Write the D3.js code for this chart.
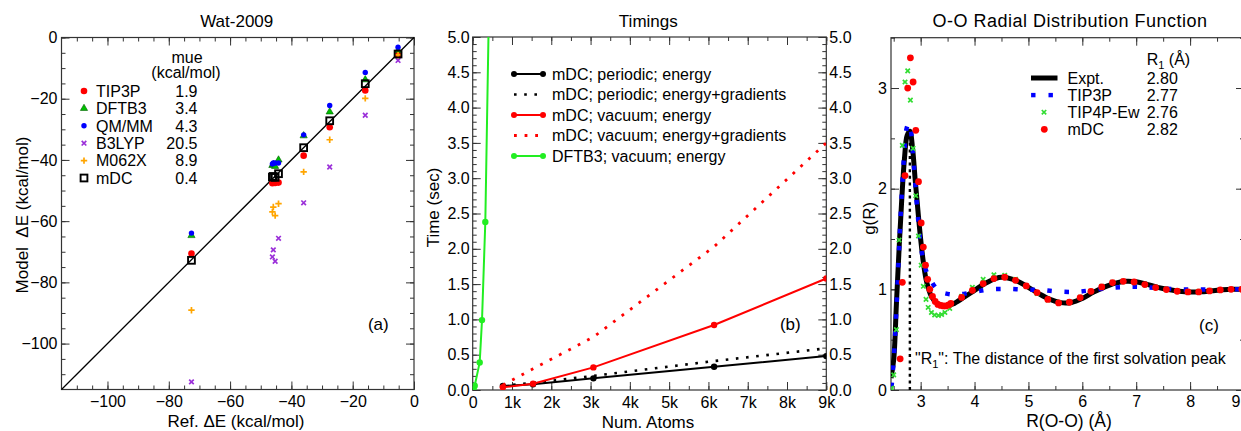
<!doctype html>
<html>
<head>
<meta charset="utf-8">
<style>
  body { margin: 0; background: #fff; }
  svg text { font-family: 'Liberation Sans', Arial, sans-serif; fill: #000; }
</style>
</head>
<body>
<svg id="fig"></svg>
<script src="https://d3js.org/d3.v7.min.js"></script>
<script>
// ---------- (a) Wat-2009 interaction energies, kcal/mol ----------
const refE   = [-72.6, -46.2, -45.9, -45.3, -44.2, -36.0, -27.5, -15.9, -5.2];
const tip3pE = [-70.6, -47.6, -47.3, -47.5, -47.4, -38.6, -29.3, -17.3, -5.7];
const dftb3E = [-64.7, -41.8, -41.5, -42.1, -40.0, -32.1, -24.3, -13.8, -4.2];
const qmmmE  = [-63.9, -41.3, -41.0, -41.0, -41.0, -31.8, -22.2, -11.4, -3.2];
const b3lypE = [-112.5, -71.7, -69.4, -73.1, -65.6, -54.0, -42.3, -25.4, -7.5];
const m062xE = [-89.1, -57.0, -55.4, -58.2, -54.3, -43.9, -33.4, -19.9, -5.7];
const mdcE   = [-72.8, -45.6, -45.4, -45.7, -44.5, -36.0, -27.2, -15.1, -5.4];
const methodNames = ['TIP3P', 'DFTB3', 'QM/MM', 'B3LYP', 'M062X', 'mDC'];
const mueValues   = ['1.9', '3.4', '4.3', '20.5', '8.9', '0.4'];
const eTicks      = [-100, -80, -60, -40, -20, 0];
const eTickLabels = ['\u2212100', '\u221280', '\u221260', '\u221240', '\u221220', '0'];

// ---------- (b) timings ----------
const atomsMDC   = [768, 1536, 3072, 6144, 9000];
const tPerEnergy = [0.057, 0.08, 0.165, 0.33, 0.48];
const tPerGrad   = [0.06, 0.1, 0.2, 0.41, 0.59];
const tVacEnergy = [0.038, 0.09, 0.32, 0.92, 1.58];
const tVacGrad   = [0.07, 0.3, 0.75, 2.03, 3.5];
const atomsDFTB  = [24, 51, 178, 237, 321, 480];
const tDftbEnergy = [0.01, 0.06, 0.39, 0.99, 2.38, 7.6];
const timingNames = ['mDC; periodic; energy', 'mDC; periodic; energy+gradients',
  'mDC; vacuum; energy', 'mDC; vacuum; energy+gradients', 'DFTB3; vacuum; energy'];
const atomTicks  = [0, 1000, 2000, 3000, 4000, 5000, 6000, 7000, 8000, 9000];
const atomLabels = ['0', '1k', '2k', '3k', '4k', '5k', '6k', '7k', '8k', '9k'];
const timeTicks  = [0, 0.5, 1, 1.5, 2, 2.5, 3, 3.5, 4, 4.5, 5];
const timeLabels = ['0.0', '0.5', '1.0', '1.5', '2.0', '2.5', '3.0', '3.5', '4.0', '4.5', '5.0'];

// ---------- (c) O-O radial distribution function ----------
const exptR = [2.45, 2.5, 2.55, 2.6, 2.65, 2.7, 2.75, 2.8, 2.85, 2.9, 2.95, 3.0, 3.05, 3.1, 3.15, 3.2,
  3.3, 3.4, 3.5, 3.6, 3.8, 4.0, 4.2, 4.4, 4.5, 4.6, 4.8, 5.0, 5.2, 5.4, 5.6, 5.8, 6.0, 6.2, 6.4, 6.6,
  6.8, 7.0, 7.2, 7.4, 7.6, 7.8, 8.0, 8.2, 8.4, 8.6, 8.8, 9.0];
const exptG = [0.12, 0.3, 0.85, 1.4, 1.9, 2.3, 2.53, 2.57, 2.4, 2.08, 1.78, 1.5, 1.27, 1.1, 1.0, 0.93,
  0.865, 0.84, 0.84, 0.855, 0.92, 0.99, 1.06, 1.11, 1.12, 1.115, 1.08, 1.02, 0.955, 0.9, 0.868, 0.87,
  0.91, 0.97, 1.02, 1.06, 1.08, 1.075, 1.05, 1.02, 0.998, 0.982, 0.974, 0.975, 0.985, 0.995, 1.0, 1.0];
const tip3pR = [2.46, 2.5, 2.55, 2.6, 2.65, 2.7, 2.74, 2.78, 2.82, 2.86, 2.9, 2.95, 3.0, 3.06, 3.12,
  3.18, 3.26, 3.35, 3.5, 3.65, 3.8, 3.95, 4.1, 4.3, 4.6, 4.9, 5.2, 5.5, 5.85, 6.15, 6.5, 6.8, 7.1, 7.4,
  7.75, 8.05, 8.4, 8.7, 9.0];
const tip3pG = [0.03, 0.3, 0.8, 1.4, 1.95, 2.38, 2.6, 2.65, 2.57, 2.33, 2.05, 1.72, 1.45, 1.26, 1.16,
  1.1, 1.03, 0.98, 0.955, 0.948, 0.955, 0.97, 0.985, 1.0, 1.004, 0.998, 0.995, 0.98, 0.974, 0.99, 1.014,
  1.024, 1.024, 1.012, 1.0, 0.998, 1.0, 1.0, 1.0];
const tip4pR = [2.46, 2.5, 2.55, 2.6, 2.66, 2.71, 2.76, 2.81, 2.86, 2.91, 2.96, 3.01, 3.05, 3.1, 3.14,
  3.2, 3.26, 3.33, 3.39, 3.45, 3.54, 3.76, 3.96, 4.16, 4.36, 4.56, 4.76, 4.96, 5.16, 5.36, 5.56, 5.76,
  5.96, 6.16, 6.36, 6.56, 6.76, 6.96, 7.16, 7.36, 7.56, 7.76, 7.96, 8.16, 8.36, 8.56, 8.76, 8.96];
const tip4pG = [0.02, 0.15, 0.6, 1.49, 2.43, 3.06, 3.17, 2.88, 2.4, 1.93, 1.53, 1.24, 1.03, 0.9, 0.82,
  0.77, 0.745, 0.74, 0.75, 0.77, 0.81, 0.93, 1.02, 1.1, 1.145, 1.14, 1.1, 1.03, 0.96, 0.895, 0.87, 0.875,
  0.92, 0.98, 1.03, 1.07, 1.08, 1.07, 1.045, 1.02, 1.0, 0.985, 0.978, 0.98, 0.99, 0.995, 1.0, 1.0];
const mdcR = [2.62, 2.66, 2.71, 2.76, 2.81, 2.86, 2.91, 2.96, 3.01, 3.05, 3.09, 3.13, 3.17, 3.22, 3.27,
  3.32, 3.37, 3.42, 3.47, 3.52, 3.56, 3.76, 3.96, 4.16, 4.36, 4.56, 4.76, 4.96, 5.16, 5.36, 5.56, 5.76,
  5.96, 6.16, 6.36, 6.56, 6.76, 6.96, 7.16, 7.36, 7.56, 7.76, 7.96, 8.16, 8.36, 8.56, 8.76, 8.96];
const mdcG = [0.31, 1.07, 2.13, 3.0, 3.3, 3.06, 2.58, 2.07, 1.66, 1.42, 1.24, 1.1, 1.0, 0.93, 0.88,
  0.85, 0.84, 0.835, 0.835, 0.845, 0.86, 0.92, 0.99, 1.057, 1.107, 1.12, 1.09, 1.034, 0.968, 0.9, 0.865,
  0.872, 0.918, 0.98, 1.024, 1.067, 1.08, 1.073, 1.047, 1.018, 0.998, 0.981, 0.974, 0.974, 0.984, 0.994,
  1.0, 1.0];
const rdfNames = ['Expt.', 'TIP3P', 'TIP4P-Ew', 'mDC'];
const rdfPeaks = ['2.80', '2.77', '2.76', '2.82'];
const rTicks = [3, 4, 5, 6, 7, 8, 9];
const rLabels = ['3', '4', '5', '6', '7', '8', '9'];
const gTicks = [0, 1, 2, 3];
const gLabels = ['0', '1', '2', '3'];

const W = 1241, H = 431;
const svg = d3.select('#fig').attr('width', W).attr('height', H);
const zip = (a, b) => a.map((v, i) => [v, b[i]]);
const step = (a, b, s) => d3.range(Math.round((b - a) / s) + 1).map(i => +(a + i * s).toFixed(3));

// box with inward ticks on all four sides
function frame(x, y, o) {
  const [x0, x1] = x.range(), [y0, y1] = y.range();
  const g = svg.append('g');
  const ax = (fn, scale, vals, size, fmt, tr, pad) => g.append('g')
      .attr('transform', tr)
      .call(fn(scale).tickValues(vals).tickSizeInner(-size).tickSizeOuter(0).tickPadding(pad).tickFormat(fmt))
      .call(s => s.select('.domain').remove())
      .attr('font-size', 16).attr('font-family', null);
  const blank = () => '';
  ax(d3.axisBottom, x, o.xMinor, 4, blank, `translate(0,${y0})`, 0);
  ax(d3.axisTop, x, o.xMinor, 4, blank, `translate(0,${y1})`, 0);
  ax(d3.axisLeft, y, o.yMinor, 4, blank, `translate(${x0},0)`, 0);
  ax(d3.axisRight, y, o.yMinor, 4, blank, `translate(${x1},0)`, 0);
  const bottom = ax(d3.axisBottom, x, o.xMajor, 8, (d, i) => o.xLabels[i], `translate(0,${y0})`, o.xPad);
  ax(d3.axisTop, x, o.xMajor, 8, blank, `translate(0,${y1})`, 0);
  ax(d3.axisLeft, y, o.yMajor, 8, (d, i) => o.yLabels[i], `translate(${x0},0)`, o.yPad);
  ax(d3.axisRight, y, o.yMajor, 8, o.rightLabels ? (d, i) => o.yLabels[i] : blank, `translate(${x1},0)`, 3);
  // keep a label that would run past the page edge inside it
  bottom.selectAll('.tick text').filter(d => x(d) > W - 6).attr('text-anchor', 'end').attr('x', W - 1 - x(o.xMajor[o.xMajor.length - 1]));
  g.selectAll('line').attr('stroke', '#333');
  g.append('rect').attr('x', x0).attr('y', y1).attr('width', x1 - x0).attr('height', y0 - y1)
    .attr('fill', 'none').attr('stroke', '#333').attr('stroke-width', 1.2);
  return g;
}
function label(x, y, txt, size, anchor, rotate) {
  const t = svg.append('text').attr('font-size', size).attr('text-anchor', anchor || 'start').text(txt);
  t.attr('transform', `translate(${x},${y})` + (rotate ? ' rotate(-90)' : ''));
  return t;
}
function clip(id, x, y) {
  const [x0, x1] = x.range(), [y0, y1] = y.range();
  svg.append('clipPath').attr('id', id).append('rect')
    .attr('x', x0).attr('y', y1).attr('width', x1 - x0).attr('height', y0 - y1);
  return svg.append('g').attr('clip-path', `url(#${id})`);
}

// marker painters
const markers = {
  circle: (g, r, c) => g.append('circle').attr('r', r).attr('fill', c),
  tri: (g, r, c) => g.append('path').attr('d', d3.symbol(d3.symbolTriangle, r * r * 2.2)())
    .attr('fill', c).attr('stroke', '#006000').attr('stroke-width', 0.6),
  xmark: (g, r, c) => g.append('path').attr('d', `M${-r},${-r}L${r},${r}M${-r},${r}L${r},${-r}`)
    .attr('stroke', c).attr('stroke-width', 1.7),
  plus: (g, r, c) => g.append('path').attr('d', `M${-r},0H${r}M0,${-r}V${r}`)
    .attr('stroke', c).attr('stroke-width', 1.7),
  square: (g, r, c) => g.append('rect').attr('x', -r).attr('y', -r).attr('width', 2 * r).attr('height', 2 * r)
    .attr('fill', 'none').attr('stroke', c).attr('stroke-width', 1.9)
};

// ================= panel (a) =================
const xa = d3.scaleLinear().domain([-115, 0]).range([61.5, 414]);
const ya = d3.scaleLinear().domain([-115, 0]).range([389.5, 37.5]);
frame(xa, ya, { xMajor: eTicks, xMinor: step(-110, 0, 5), xLabels: eTickLabels, xPad: 6.5,
  yMajor: eTicks, yMinor: step(-110, 0, 5), yLabels: eTickLabels, yPad: 4 });
svg.append('line').attr('x1', xa(-115)).attr('y1', ya(-115)).attr('x2', xa(0)).attr('y2', ya(0))
  .attr('stroke', '#000').attr('stroke-width', 1.3);

const aSeries = [
  { v: tip3pE, m: 'circle', r: 3.3, c: '#ff0000' },
  { v: dftb3E, m: 'tri', r: 3.2, c: '#00c000' },
  { v: qmmmE, m: 'circle', r: 2.7, c: '#0000ff' },
  { v: b3lypE, m: 'xmark', r: 2.3, c: '#9b30d9' },
  { v: m062xE, m: 'plus', r: 3.2, c: '#ffa500' },
  { v: mdcE, m: 'square', r: 3.4, c: '#000' }
];
aSeries.forEach(s => {
  zip(refE, s.v).forEach(([x, y]) => {
    markers[s.m](svg.append('g').attr('transform', `translate(${xa(x)},${ya(y)})`), s.r, s.c);
  });
});
label(187, 62.5, 'mue', 16, 'middle');
label(186, 77.7, '(kcal/mol)', 16, 'middle');
methodNames.forEach((n, i) => {
  const cy = 91 + i * 17.4, s = aSeries[i];
  markers[s.m](svg.append('g').attr('transform', `translate(84,${cy})`), s.r, s.c);
  label(96, cy + 5.7, n, 16);
  label(197.5, cy + 5.7, mueValues[i], 16, 'end');
});
label(236.7, 27.3, 'Wat-2009', 17, 'middle');
label(236, 426.5, 'Ref. \u0394E (kcal/mol)', 17, 'middle');
label(27.5, 215, 'Model  \u0394E (kcal/mol)', 17, 'middle', true).style('white-space', 'pre');
label(378.3, 329.5, '(a)', 17, 'middle');

// ================= panel (b) =================
const xb = d3.scaleLinear().domain([0, 9000]).range([472.7, 826.3]);
const yb = d3.scaleLinear().domain([0, 5]).range([390, 37]);
frame(xb, yb, { xMajor: atomTicks, xMinor: step(0, 9000, 500), xLabels: atomLabels, xPad: 6.5,
  yMajor: timeTicks, yMinor: step(0, 5, 0.1), yLabels: timeLabels, yPad: 3, rightLabels: true });
const gb = clip('clipb', xb, yb);
const lineB = d3.line().x(d => xb(d[0])).y(d => yb(d[1]));
const bSeries = [
  { d: zip(atomsMDC, tPerEnergy), c: '#000', dots: true },
  { d: zip(atomsMDC, tPerGrad), c: '#000', dots: false, dash: '2.6,7.6', w: 2.6 },
  { d: zip(atomsMDC, tVacEnergy), c: '#ff0000', dots: true },
  { d: zip(atomsMDC, tVacGrad), c: '#ff0000', dots: false, dash: '2.8,7.8', w: 2.8 },
  { d: zip(atomsDFTB, tDftbEnergy), c: '#22ee22', dots: true }
];
bSeries.forEach(s => {
  gb.append('path').attr('d', lineB(s.d)).attr('fill', 'none').attr('stroke', s.c)
    .attr('stroke-width', s.w || 2).attr('stroke-dasharray', s.dash || null);
  if (s.dots) gb.selectAll(null).data(s.d).join('circle')
    .attr('cx', d => xb(d[0])).attr('cy', d => yb(d[1])).attr('r', 3.2).attr('fill', s.c);
});
timingNames.forEach((n, i) => {
  const cy = 74 + i * 20.5, s = bSeries[i];
  svg.append('line').attr('x1', 514).attr('x2', s.dots ? 543 : 541).attr('y1', cy).attr('y2', cy)
    .attr('stroke', s.c).attr('stroke-width', s.w || 2).attr('stroke-dasharray', s.dash || null);
  if (s.dots) [514, 543].forEach(x => svg.append('circle').attr('cx', x).attr('cy', cy).attr('r', 3).attr('fill', s.c));
  label(552, cy + 5.5, n, 16);
});
label(648.3, 27.3, 'Timings', 17, 'middle');
label(648, 427.5, 'Num. Atoms', 17, 'middle');
label(439, 207.5, 'Time (sec)', 17, 'middle', true);
label(790.3, 329.5, '(b)', 17, 'middle');

// ================= panel (c) =================
const xc = d3.scaleLinear().domain([2.45, 9]).range([891, 1244]);
const yc = d3.scaleLinear().domain([0, 3.5]).range([390, 37.7]);
frame(xc, yc, { xMajor: rTicks, xMinor: step(2.5, 9, 0.5), xLabels: rLabels, xPad: 6,
  yMajor: gTicks, yMinor: step(0, 3.5, 0.5), yLabels: gLabels, yPad: 4 });
const gc = clip('clipc', xc, yc);
const lineC = d3.line().x(d => xc(d[0])).y(d => yc(d[1])).curve(d3.curveCatmullRom);
gc.append('line').attr('x1', xc(2.80)).attr('x2', xc(2.80)).attr('y1', yc(0)).attr('y2', yc(2.5))
  .attr('stroke', '#000').attr('stroke-width', 2.4).attr('stroke-dasharray', '3,3.6');
gc.append('path').attr('d', lineC(zip(exptR, exptG))).attr('fill', 'none')
  .attr('stroke', '#000').attr('stroke-width', 5);
gc.append('path').attr('d', lineC(zip(tip3pR, tip3pG))).attr('fill', 'none')
  .attr('stroke', '#0000ff').attr('stroke-width', 4.5).attr('stroke-dasharray', '4.5,12.6');
zip(tip4pR, tip4pG).forEach(([r, g]) =>
  markers.xmark(gc.append('g').attr('transform', `translate(${xc(r)},${yc(g)})`), 2.2, '#33dd33'));
gc.selectAll(null).data(zip(mdcR, mdcG)).join('circle')
  .attr('cx', d => xc(d[0])).attr('cy', d => yc(d[1])).attr('r', 3.4).attr('fill', '#ff0000');

// legend (c)
const rHead = label(1146.7, 65, 'R', 16);
rHead.append('tspan').attr('font-size', 11).attr('dy', 4).text('1');
rHead.append('tspan').attr('dy', -4).text(' (\u00c5)');
rdfNames.forEach((n, i) => {
  const cy = 78 + i * 17.1;
  if (i === 0) svg.append('line').attr('x1', 1031).attr('x2', 1057.5).attr('y1', cy).attr('y2', cy)
    .attr('stroke', '#000').attr('stroke-width', 5);
  if (i === 1) [1033.3, 1050.7].forEach(x => svg.append('rect').attr('x', x - 2.2).attr('y', cy - 2.2)
    .attr('width', 4.4).attr('height', 4.4).attr('fill', '#0000ff'));
  if (i === 2) markers.xmark(svg.append('g').attr('transform', `translate(1044,${cy})`), 2.2, '#33dd33');
  if (i === 3) svg.append('circle').attr('cx', 1044.3).attr('cy', cy).attr('r', 3.4).attr('fill', '#ff0000');
  label(1067.5, cy + 5.7, n, 16);
  label(1146.7, cy + 5.7, rdfPeaks[i], 16);
});
const note = label(915, 364.3, '"R', 16);
note.append('tspan').attr('font-size', 11).attr('dy', 4).text('1');
note.append('tspan').attr('dy', -4).text('": The distance of the first solvation peak');
label(1070, 27.3, 'O-O Radial Distribution Function', 18, 'middle').attr('letter-spacing', 0.5);
label(1069, 427, 'R(O-O) (\u00c5)', 17.5, 'middle');
label(874.5, 218.3, 'g(R)', 17, 'middle', true);
label(1209, 330.5, '(c)', 17, 'middle');
</script>
</body>
</html>
